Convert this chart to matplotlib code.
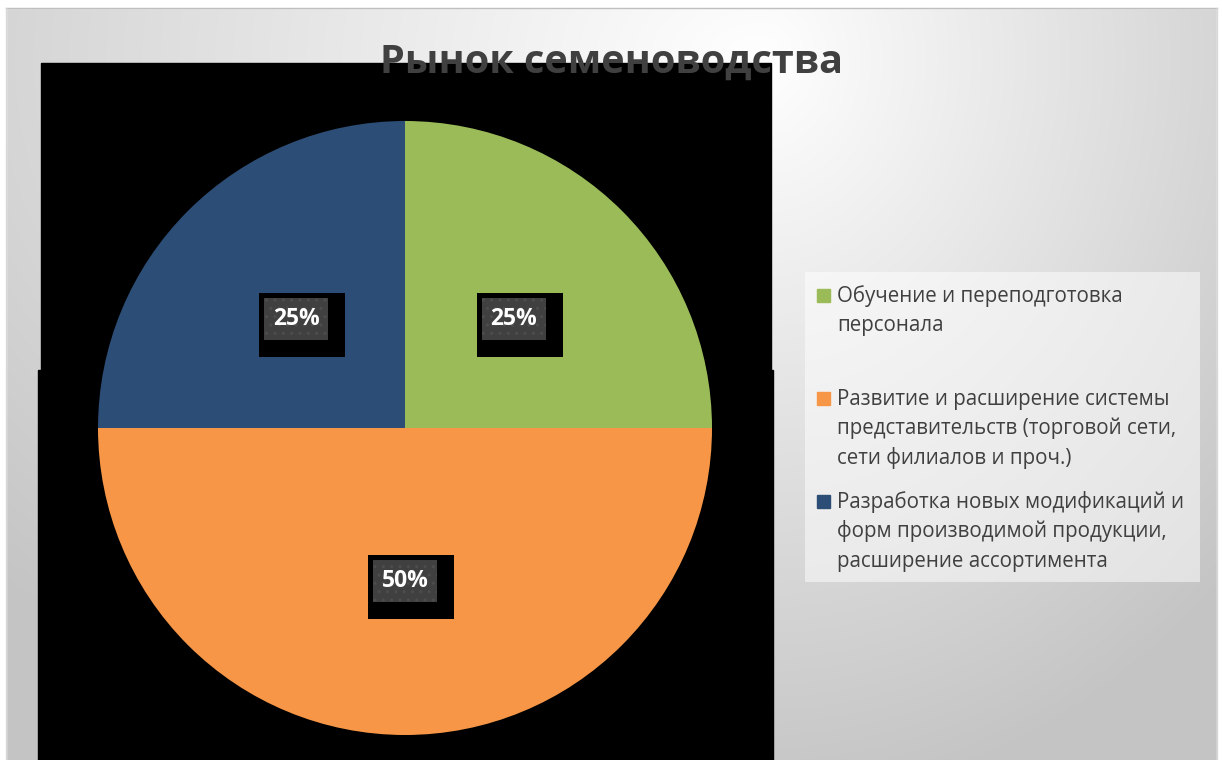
import matplotlib
matplotlib.use("Agg")
import matplotlib.pyplot as plt
import numpy as np
from matplotlib.patches import Rectangle

# chart data
title = "Рынок семеноводства"
categories = [
    "Обучение и переподготовка\nперсонала",
    "Развитие и расширение системы\nпредставительств (торговой сети,\nсети филиалов и проч.)",
    "Разработка новых модификаций и\nформ производимой продукции,\nрасширение ассортимента",
]
shares = [25, 50, 25]
colors = ["#9BBB59", "#F79646", "#2C4D75"]

W, H = 1222, 760
plt.rcParams["font.family"] = ["Open Sans", "DejaVu Sans"]

fig = plt.figure(figsize=(W / 100, H / 100), dpi=100)

# background layer in pixel coordinates
bg = fig.add_axes([0, 0, 1, 1])
bg.set_xlim(0, W)
bg.set_ylim(H, 0)
bg.axis("off")

# soft gradient like the Excel chart area (lightest near the top middle)
yy, xx = np.mgrid[0:H, 0:W]
dx = np.where(xx < 760, (760 - xx) * 0.7, (xx - 760) * 1.15)
dist = np.hypot(dx, yy - 60)
val = np.clip(255 - 55 * dist / 700, 196, 255)
grad = np.dstack([val, val, val]) / 255
bg.imshow(grad, extent=(0, W, H, 0), zorder=0, aspect="auto")
# white margins outside the chart frame
bg.add_patch(Rectangle((0, 0), W, 8, color="white", zorder=1))
bg.add_patch(Rectangle((0, 0), 6, H, color="white", zorder=1))
bg.add_patch(Rectangle((1217, 0), 6, H, color="white", zorder=1))
bg.plot([6, 1217], [8, 8], color="#bfbfbf", lw=1, zorder=2)
bg.plot([6, 6], [8, H], color="#d8d8d8", lw=1, zorder=2)
bg.plot([1217, 1217], [8, H], color="#d8d8d8", lw=1, zorder=2)

# black blocks behind the pie
bg.add_patch(Rectangle((41, 63), 730, 307, color="black", zorder=3))
bg.add_patch(Rectangle((38, 370), 735, 390, color="black", zorder=3))

bg.text(611, 62, title, ha="center", va="center", fontsize=28.5,
        fontweight="bold", color="#404040", zorder=5)

# legend
bg.add_patch(Rectangle((805, 272), 395, 310, facecolor="white", alpha=0.5,
                       edgecolor="none", zorder=4))
entry_y = [296, 399, 502]
line_step = 29.5
for label, color, y0 in zip(categories, colors, entry_y):
    bg.add_patch(Rectangle((817, y0 - 7), 13, 13, color=color, zorder=5))
    for i, line in enumerate(label.split("\n")):
        bg.text(837, y0 + i * line_step, line, ha="left", va="center",
                fontsize=14.8, color="#404040", zorder=5)

# pie
R = 307
ax = fig.add_axes([(405 - R) / W, (H - 428 - R) / H, 2 * R / W, 2 * R / H])
ax.patch.set_alpha(0)
wedges, texts, autotexts = ax.pie(
    shares,
    colors=colors,
    startangle=90,
    counterclock=False,
    autopct="%.0f%%",
    pctdistance=0.5,
    wedgeprops=dict(linewidth=0),
    textprops=dict(color="white", fontsize=16.5, fontweight="bold"),
)
ax.set_xlim(-1, 1)
ax.set_ylim(-1, 1)

px = 1 / R
for t in autotexts:
    t.set_zorder(6)
    t.set_va("center")
    tx, ty = t.get_position()
    ax.add_patch(Rectangle((tx - 37 * px, ty - 38 * px), 86 * px, 64 * px,
                           facecolor="black", edgecolor="none", zorder=4))
    ax.add_patch(Rectangle((tx - 32 * px, ty - 21 * px), 64 * px, 42 * px,
                           facecolor="#404040", edgecolor="#4d4d4d",
                           hatch="..", linewidth=0, zorder=5))

fig.savefig("out.png", dpi=100)
plt.close(fig)
